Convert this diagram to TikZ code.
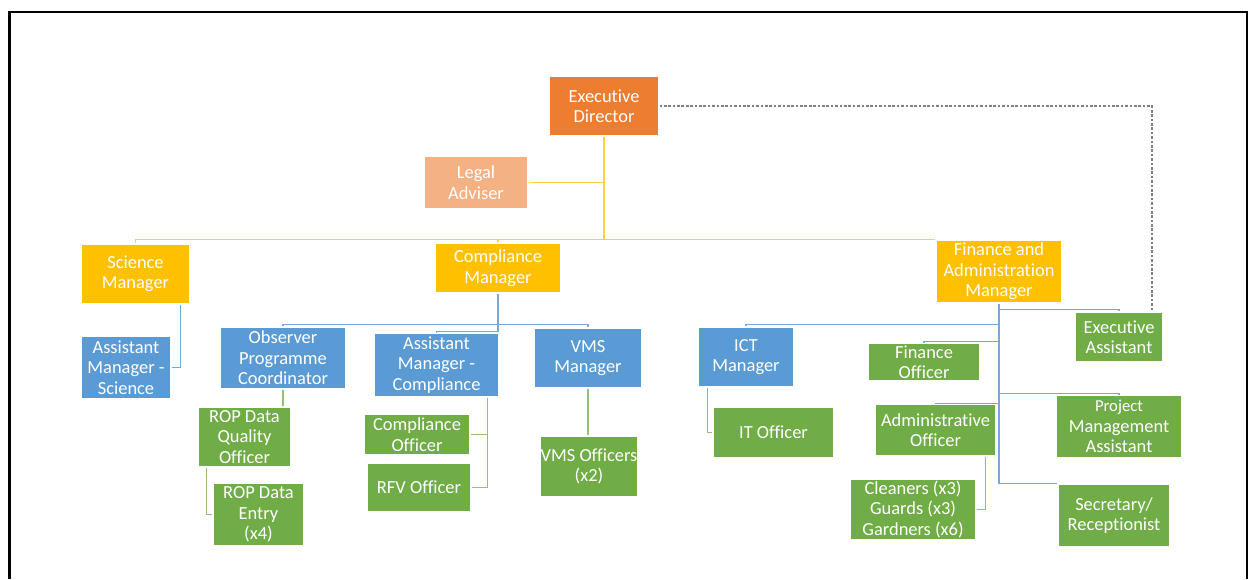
\documentclass[tikz,border=0pt]{standalone}
\usepackage{fontspec}
\setmainfont[Ligatures=NoCommon]{Carlito}
\usepackage{xcolor}
\usepackage{tikz}
\usetikzlibrary{calc}
\definecolor{edorange}{HTML}{ED7D31}
\definecolor{legalorange}{HTML}{F4B183}
\definecolor{mgryellow}{HTML}{FFC000}
\definecolor{unitblue}{HTML}{5B9BD5}
\definecolor{staffgreen}{HTML}{70AD47}

\begin{document}
\begin{tikzpicture}[x=0.02cm, y=-0.02cm,
    post/.style={rectangle, draw=white, line width=0.6pt, text=white,
        align=center, inner sep=0pt, font=\fontsize{10.5}{11.6}\selectfont},
    yellowline/.style={draw=mgryellow!75, line width=1.1pt},
    blueline/.style={draw=unitblue!85, line width=0.9pt},
    greenline/.style={draw=staffgreen!75, line width=0.9pt}]

\useasboundingbox (0,0) rectangle (1250,579);

% Frame
\draw[line width=1.3pt] (9.5,579) -- (9.5,12) -- (1247,12) -- (1247,579);

% Director and adviser
\node[post, fill=edorange, minimum width=2.2cm, minimum height=1.2cm]
    (ED) at (604,106) {Executive\\Director};
\node[post, fill=legalorange, minimum width=2.08cm, minimum height=1.06cm]
    (Legal) at (476,182.5) {Legal\\Adviser};

% Managers
\foreach \n/\x/\y/\w/\h/\t in {
    SM/135.5/274/109/60/{Science\\Manager},
    CM/498/268/126/50/{Compliance\\Manager},
    FAM/999/271.5/126/63/{Finance and\\Administration\\Manager}}
{
    \node[post, fill=mgryellow,
        minimum width=\w*0.02cm, minimum height=\h*0.02cm] (\n) at (\x,\y) {\t};
}

% Unit heads
\foreach \n/\x/\y/\w/\h/\t in {
    ASM/126/367.5/90/63/{Assistant\\Manager -\\Science},
    OPC/283/358/126/62/{Observer\\Programme\\Coordinator},
    AMC/436.5/365/125/64/{Assistant\\Manager -\\Compliance},
    VMS/588/358/108/60/{VMS\\Manager},
    ICT/746/357/96/60/{ICT\\Manager}}
{
    \node[post, fill=unitblue,
        minimum width=\w*0.02cm, minimum height=\h*0.02cm] (\n) at (\x,\y) {\t};
}

% Staff
\foreach \n/\x/\y/\w/\h/\t in {
    RDQ/244.5/437/93/60/{ROP Data\\Quality\\Officer},
    RDE/258.5/514.5/91/63/{ROP Data\\Entry\\(x4)},
    CO/417/434.5/106/41/{Compliance\\Officer},
    RFV/419/487.5/104/49/{RFV Officer},
    VMSO/589/466.5/98/61/{VMS Officers\\(x2)},
    IT/773.5/432.5/121/51/{IT Officer},
    FO/924/362/112/38/{Finance\\Officer},
    AO/935.5/430/121/52/{Administrative\\Officer},
    CL/913/509.5/126/60/{Cleaners (x3)\\Guards (x3)\\Gardners (x6)},
    EA/1119/337/88/50/{Executive\\Assistant},
    PMA/1119/426.5/126/63/{\fontsize{9.5}{10.5}\selectfont Project\\Management\\Assistant},
    SR/1114/515.5/112/63/{Secretary/\\Receptionist}}
{
    \node[post, fill=staffgreen,
        minimum width=\w*0.02cm, minimum height=\h*0.02cm] (\n) at (\x,\y) {\t};
}

% Director to managers
\coordinate (edJoin) at (ED.south |- FAM.north);
\draw[yellowline] (ED.south) -- (edJoin);
\draw[yellowline] (Legal.east) -- (Legal.east -| ED.south);
\draw[yellowline] (edJoin) -| (SM.north);
\draw[yellowline] (edJoin) -| (CM.north);
\draw[yellowline] (edJoin) -- (FAM.north west);

% Director to executive assistant
\draw[gray, dash pattern=on 1.5pt off 1pt, line width=0.6pt]
    (ED.east) -| ([xshift=0.66cm]EA.north);

% Science
\draw[blueline] ([xshift=-0.2cm]SM.south east) |- (ASM.east);

% Compliance
\coordinate (cmJoin) at ($(CM.south)+(0,31)$);
\draw[blueline] (CM.south) -- (cmJoin);
\draw[blueline] (cmJoin) -| (OPC.north);
\draw[blueline] (cmJoin) -| (VMS.north);
\draw[blueline] (cmJoin) -- ++(0,7) -| (AMC.north);

\draw[greenline] (OPC.south) -- (OPC.south |- RDQ.north);
\draw[greenline] ([xshift=0.18cm]RDQ.south west) |- (RDE.west);
\draw[greenline] ([xshift=-0.24cm]AMC.south east) |- (CO.east);
\draw[greenline] ([xshift=-0.24cm]AMC.south east) |- (RFV.east);
\draw[greenline] (VMS.south) -- (VMS.south |- VMSO.north);

% Finance and administration
\draw[blueline] (FAM.south) |- (SR.north west);
\foreach \n/\d in {EA/6, ICT/21, FO/38, PMA/90, AO/100}
{
    \draw[blueline] ($(FAM.south)+(0,\d)$) -| (\n.north);
}

\draw[greenline] ([xshift=0.2cm]ICT.south west) |- (IT.west);
\draw[greenline] ([xshift=-0.22cm]AO.south east) |- (CL.east);

\end{tikzpicture}
\end{document}
